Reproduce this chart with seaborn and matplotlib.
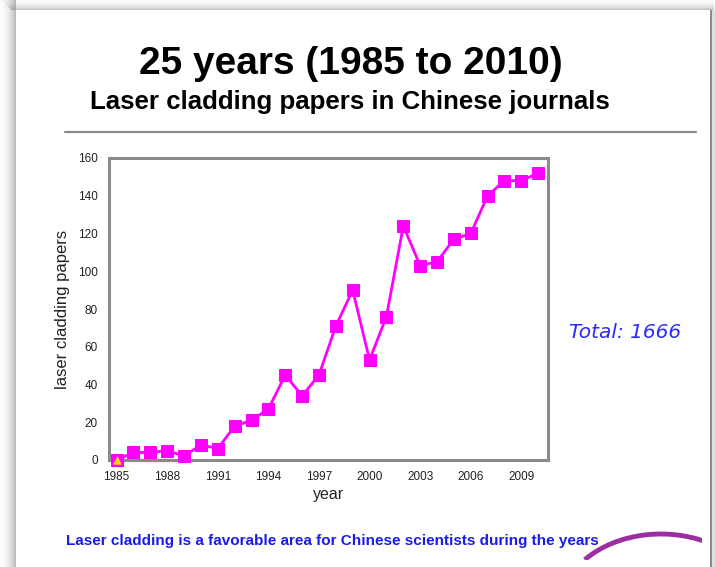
import matplotlib
matplotlib.use("Agg")
import matplotlib.pyplot as plt
from matplotlib.patches import Rectangle, Arc
from matplotlib.lines import Line2D
from matplotlib.ticker import MultipleLocator
import numpy as np
import pandas as pd
import seaborn as sns

# Annual number of laser cladding papers in Chinese journals
years = list(range(1985, 2011))
papers = [0, 4, 4, 5, 2, 8, 6, 18, 21, 27, 45, 34, 45, 71, 90,
          53, 76, 124, 103, 105, 117, 120, 140, 148, 148, 152]
first_year = [1985]
first_value = [0]

title = "25 years (1985 to 2010)"
subtitle = "Laser cladding papers in Chinese journals"
total_text = "Total: 1666"
footer = "Laser cladding is a favorable area for Chinese scientists during the years"

sns.set_style("white")
plt.rcParams["font.family"] = ["Liberation Sans", "DejaVu Sans"]

W, H = 715, 567
fig = plt.figure(figsize=(W / 100, H / 100), dpi=100)
fig.patch.set_facecolor("white")

def fx(px):
    return px / W

def fy(py):
    return 1 - py / H

def frame_rect(x0, y0, w, h, color, alpha=1.0):
    fig.patches.append(Rectangle((fx(x0), fy(y0 + h)), w / W, h / H,
                                 transform=fig.transFigure, color=color,
                                 alpha=alpha, lw=0, zorder=0))

# slide frame with soft shadow on the left and top
for i in range(16):
    frame_rect(i, 0, 1, H, (0.5, 0.5, 0.5), 0.03 + 0.5 * (i / 15) ** 2)
for i in range(10):
    frame_rect(i + 2, i, 712 - i, 1, (0.5, 0.5, 0.5), 0.05 + 0.4 * (i / 9) ** 2)
frame_rect(710, 10, 5, H, (0.88, 0.88, 0.88))
frame_rect(710, 10, 1.5, H, (0.55, 0.55, 0.55))

# headings
fig.text(fx(351), fy(64), title, ha="center", va="center", fontsize=28,
         fontweight="bold", color="black")
fig.text(fx(350), fy(102), subtitle, ha="center", va="center", fontsize=18.6,
         fontweight="bold", color="black")
fig.lines.append(Line2D([fx(65), fx(696)], [fy(132), fy(132)], transform=fig.transFigure,
                        color="#8c8c8c", lw=1.6))

# main chart
ax = fig.add_axes([fx(109), fy(460), fx(548) - fx(109), fy(158) - fy(460)])
df = pd.DataFrame({"year": years, "papers": papers})
sns.lineplot(data=df, x="year", y="papers", ax=ax, color="magenta", lw=2.0,
             marker="s", markersize=8, markeredgecolor="magenta", clip_on=False, zorder=3)
first = pd.DataFrame({"year": first_year, "papers": first_value})
sns.scatterplot(data=first, x="year", y="papers", ax=ax, marker="^", s=30,
                color="#ffd700", edgecolor="#ffd700", clip_on=False, zorder=4)

ax.set_xlim(1984.55, 2010.58)
ax.set_ylim(0, 160)
ax.xaxis.set_minor_locator(MultipleLocator(1))
ax.set_xticks(range(1985, 2011, 3))
ax.yaxis.set_major_locator(MultipleLocator(20))
ax.tick_params(axis="both", which="both", direction="in", color="#909090", labelsize=8.5,
               labelcolor="#222222")
ax.tick_params(axis="x", which="major", length=4, width=1, pad=8)
ax.tick_params(axis="x", which="minor", length=4, width=1)
ax.tick_params(axis="y", which="major", length=4, width=1, pad=8)
ax.tick_params(axis="x", top=False)
ax.tick_params(axis="y", right=False)
for s in ax.spines.values():
    s.set_visible(True)
    s.set_color("#8a8a8a")
    s.set_linewidth(2.2)
ax.set_xlabel("year", fontsize=11.5, labelpad=3, color="#222222")
ax.set_ylabel("laser cladding papers", fontsize=12, labelpad=6, color="#222222")

# annotations
fig.text(fx(625), fy(332), total_text, ha="center", va="center", fontsize=14.5,
         style="italic", color="#2a2aff", family=["DejaVu Sans"])
fig.text(fx(332), fy(541), footer, ha="center", va="center", fontsize=11,
         fontweight="bold", color="#1a1aee")

# decorative arc in the lower right
arc = Arc((fx(661), fy(607)), 200 / W, 146 / H, theta1=55, theta2=142,
          transform=fig.transFigure, color="#9b2fa0", lw=3.5)
fig.patches.append(arc)
clip = Rectangle((fx(570), fy(560)), 132 / W, 40 / H, transform=fig.transFigure)
arc.set_clip_path(clip)

fig.savefig("out.png", dpi=100, facecolor=fig.get_facecolor())
